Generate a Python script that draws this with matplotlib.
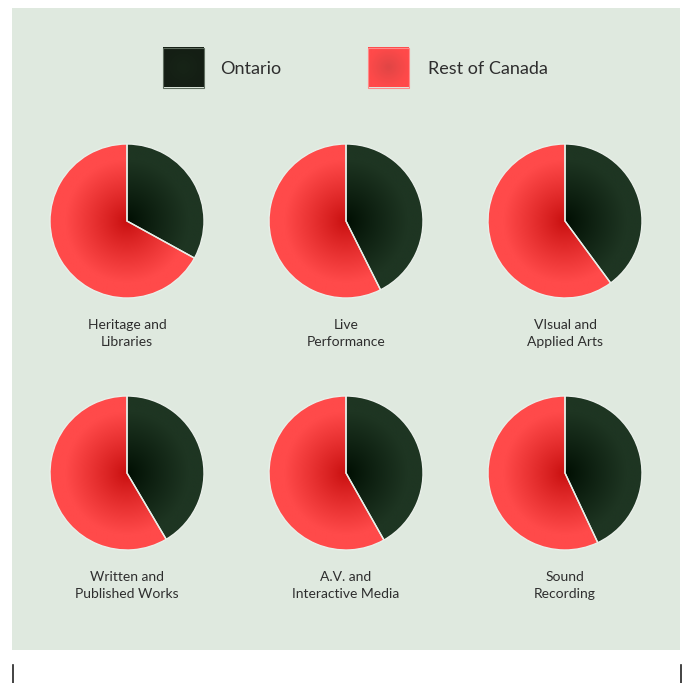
import numpy as np
import matplotlib
matplotlib.use("Agg")
import matplotlib.pyplot as plt
from matplotlib.patches import Rectangle
from matplotlib.colors import to_rgb

# ---- data ----
categories = ["Heritage and\nLibraries", "Live\nPerformance", "VIsual and\nApplied Arts",
              "Written and\nPublished Works", "A.V. and\nInteractive Media", "Sound\nRecording"]
ontario = [33.0, 42.6, 39.9, 41.5, 41.8, 43.0]
rest_of_canada = [100 - v for v in ontario]
series = ["Ontario", "Rest of Canada"]

# ---- style ----
W, H = 686, 683
PANEL = "#dfe9df"
TEXT = "#2e2e2e"
GRAD = {  # (center, edge)
    "Ontario": ("#000e02", "#1e3522"),
    "Rest of Canada": ("#c80f0f", "#ff4a4a"),
}
plt.rcParams['font.family'] = ['Lato', 'DejaVu Sans']


def radial(c0, c1, n=200, reach=0.85, power=1.0):
    y, x = np.mgrid[-1:1:n * 1j, -1:1:n * 1j]
    r = np.sqrt(x ** 2 + y ** 2)
    t = np.clip(r / reach, 0, 1) ** power
    a, b = np.array(to_rgb(c0)), np.array(to_rgb(c1))
    return a[None, None, :] + (b - a)[None, None, :] * t[..., None]


fig = plt.figure(figsize=(W / 100, H / 100), dpi=100)
fig.patch.set_facecolor("white")
bg = fig.add_axes([0, 0, 1, 1])
bg.add_patch(Rectangle((12, 8), 668, 642, facecolor=PANEL, edgecolor="none", zorder=0))
bg.plot([12.5, 12.5], [665, 683], color="#222222", lw=1.2)
bg.plot([680.5, 680.5], [665, 683], color="#222222", lw=1.2)

# legend
leg_x = [163, 368]
txt_x = [220, 428]
for i, s in enumerate(series):
    c0, c1 = GRAD[s]
    if s == "Ontario":
        img = radial("#172417", "#141e14", reach=1.0)
        ec = "#5f6d5f"
    else:
        img = radial("#e04545", "#ff4a4a", reach=1.0)
        ec = "#ff8a8a"
    bg.imshow(img, extent=[leg_x[i], leg_x[i] + 41, 87.5, 48], aspect="auto", zorder=2,
              interpolation="bilinear")
    bg.add_patch(Rectangle((leg_x[i], 48), 41, 39.5, facecolor="none", edgecolor=ec, lw=0.8, zorder=3))
    bg.text(txt_x[i], 74, s, fontsize=13, color=TEXT, ha="left", va="baseline")

bg.set_xlim(0, W)
bg.set_ylim(H, 0)
bg.axis("off")

# pies
R = 77
half = 82
cols = [127, 346, 565]
rows = [221, 473]
for i, cat in enumerate(categories):
    cx, cy = cols[i % 3], rows[i // 3]
    ax = fig.add_axes([(cx - half) / W, 1 - (cy + half) / H, 2 * half / W, 2 * half / H])
    wedges, _ = ax.pie([ontario[i], rest_of_canada[i]], startangle=90, counterclock=False,
                       radius=1, wedgeprops=dict(linewidth=1.0, edgecolor="#e9efe9"))
    for w, s in zip(wedges, series):
        c0, c1 = GRAD[s]
        im = ax.imshow(radial(c0, c1, reach=0.8, power=0.9), extent=[-1, 1, -1, 1],
                       zorder=w.get_zorder() - 0.1, interpolation="bilinear")
        im.set_clip_path(w)
        w.set_facecolor("none")
    ax.set_xlim(-half / R, half / R)
    ax.set_ylim(-half / R, half / R)
    ax.set_aspect("equal")
    ax.axis("off")
    for k, line in enumerate(cat.split("\n")):
        bg.text(cx, cy + 108 + 17 * k, line, fontsize=10, color=TEXT, ha="center", va="baseline")

fig.savefig("out.png", dpi=100, facecolor="white")
